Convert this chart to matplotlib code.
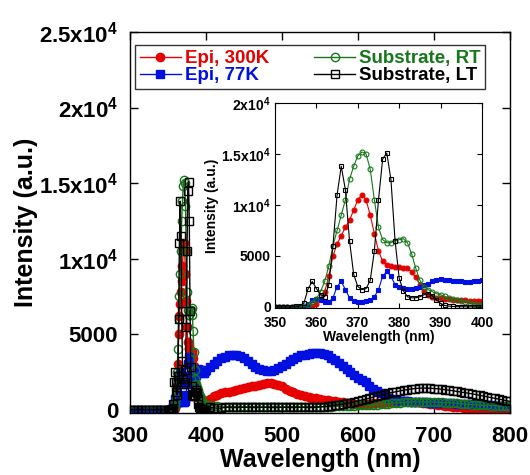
import numpy as np
import matplotlib
matplotlib.use('Agg')
from matplotlib import pyplot as plt

plt.rcParams['font.family'] = ['Liberation Sans', 'DejaVu Sans']
plt.rcParams['font.weight'] = 'bold'
plt.rcParams['mathtext.fontset'] = 'custom'
plt.rcParams['mathtext.bf'] = 'Liberation Sans:bold'
plt.rcParams['mathtext.rm'] = 'Liberation Sans:bold'
plt.rcParams['mathtext.default'] = 'bf'

# wavelength sampling (nm)
wl_lo = np.arange(300, 350, 5)
wl_mid = np.arange(350, 401, 1)
wl_hi = np.arange(405, 801, 5)
wl = np.concatenate([wl_lo, wl_mid, wl_hi])

zeros_lo = [0] * len(wl_lo)

# Epi, 300K
epi300_mid = [0, 0, 0, 0, 0, 0, 0, 0, 0, 100,
              300, 800, 1500, 3000, 5000, 6200, 7000, 7800, 8500, 9500,
              10500, 11000, 10500, 9000, 7200, 5500, 4500, 4100, 4000, 3900,
              3900, 3850, 3800, 3400, 2900, 2200, 1600, 1200, 1000, 900,
              850, 800, 750, 700, 700, 650, 650, 600, 600, 600, 600]
epi300_hi = [700, 900, 1000, 1100, 1150, 1200, 1250, 1300, 1400, 1450,
             1500, 1550, 1600, 1650, 1700, 1750, 1750, 1700, 1650, 1550,
             1400, 1250, 1150, 1050, 950, 900, 850, 800, 750, 700,
             650, 620, 600, 560, 520, 480, 450, 420, 400, 400,
             400, 400, 400, 420, 440, 460, 480, 500, 520, 540,
             550, 550, 550, 540, 520, 500, 470, 440, 400, 360,
             320, 280, 250, 220, 200, 180, 160, 140, 130, 120,
             110, 100, 90, 80, 70, 60, 50, 50, 40, 40]

# Epi, 77K
epi77_mid = [0, 0, 0, 0, 0, 0, 0, 0, 300, 700,
             800, 700, 500, 500, 900, 2000, 2500, 1700, 900, 600,
             500, 500, 550, 700, 1000, 1700, 3000, 3500, 3000, 2200,
             2000, 1900, 1800, 1800, 1900, 2000, 2200, 2300, 2500, 2600,
             2700, 2650, 2600, 2550, 2500, 2500, 2450, 2450, 2500, 2550, 2600]
epi77_hi = [2800, 3000, 3200, 3400, 3500, 3600, 3650, 3650, 3550, 3400,
            3200, 3000, 2850, 2700, 2600, 2550, 2550, 2600, 2750, 2900,
            3050, 3200, 3350, 3500, 3600, 3650, 3700, 3750, 3750, 3750,
            3700, 3600, 3450, 3300, 3100, 2900, 2700, 2500, 2300, 2100,
            1950, 1800, 1600, 1400, 1250, 1100, 950, 800, 700, 650,
            600, 580, 560, 540, 520, 500, 490, 480, 470, 460,
            450, 440, 430, 420, 410, 400, 390, 380, 370, 360,
            350, 340, 320, 300, 280, 270, 260, 250, 240, 230]

# Substrate, RT
subrt_mid = [0, 0, 0, 0, 0, 0, 0, 50, 200, 400,
             800, 1500, 2500, 4000, 6000, 7500, 9000, 10500, 12500, 13800,
             14800, 15200, 15000, 13500, 10500, 7800, 6600, 6300, 6300, 6500,
             6600, 6700, 6300, 5200, 3800, 2600, 2000, 1700, 1500, 1300,
             1200, 1050, 900, 800, 700, 600, 500, 400, 300, 250, 200]
subrt_hi = [300, 250, 220, 200, 200, 200, 200, 200, 200, 200,
            200, 200, 200, 200, 200, 200, 200, 200, 200, 200,
            200, 200, 200, 200, 200, 200, 200, 200, 200, 200,
            200, 200, 210, 220, 230, 240, 250, 260, 270, 280,
            290, 300, 310, 320, 340, 360, 380, 400, 420, 440,
            460, 480, 500, 510, 520, 520, 520, 520, 510, 500,
            490, 480, 470, 460, 440, 420, 400, 380, 360, 340,
            320, 300, 290, 280, 270, 260, 250, 240, 230, 220]

# Substrate, LT
sublt_mid = [0, 0, 0, 0, 0, 50, 100, 400, 1800, 2500,
             1800, 1200, 1000, 2200, 6000, 11000, 13800, 11500, 6500, 3200,
             2000, 1700, 1800, 2600, 5500, 10500, 14500, 15100, 12500, 6500,
             2800, 1600, 1000, 900, 900, 1000, 1200, 1300, 1100, 700,
             350, 150, 80, 50, 30, 20, 10, 0, 0, 0, 0]
sublt_hi = [150, 120, 100, 100, 150, 150, 150, 150, 150, 150,
            150, 150, 150, 150, 150, 150, 150, 150, 150, 150,
            150, 150, 150, 150, 150, 150, 150, 150, 150, 180,
            200, 230, 260, 300, 340, 380, 420, 470, 520, 580,
            640, 700, 760, 830, 900, 960, 1020, 1080, 1140, 1190,
            1240, 1290, 1330, 1370, 1400, 1420, 1430, 1430, 1420, 1400,
            1380, 1350, 1320, 1290, 1250, 1210, 1170, 1130, 1090, 1050,
            1000, 950, 900, 850, 800, 750, 700, 650, 600, 550]

series = [
    ('Epi, 300K', zeros_lo + epi300_mid + epi300_hi, '#e60000', 'o', True),
    ('Epi, 77K', zeros_lo + epi77_mid + epi77_hi, '#0010e0', 's', True),
    ('Substrate, RT', zeros_lo + subrt_mid + subrt_hi, '#16781a', 'o', False),
    ('Substrate, LT', zeros_lo + sublt_mid + sublt_hi, 'black', 's', False),
]

main_yticks = [0, 5000, 10000, 15000, 20000, 25000]
main_ylabels = ['0', '5000', r'1x10$^{4}$', r'1.5x10$^{4}$', r'2x10$^{4}$', r'2.5x10$^{4}$']
main_xticks = [300, 400, 500, 600, 700, 800]
ins_yticks = [0, 5000, 10000, 15000, 20000]
ins_ylabels = ['0', '5000', r'1x10$^{4}$', r'1.5x10$^{4}$', r'2x10$^{4}$']
ins_xticks = [350, 360, 370, 380, 390, 400]

W, H = 530, 475
fig = plt.figure(figsize=(W / 100, H / 100), dpi=100)


def box(l, t, r, b):
    return [l / W, 1 - b / H, (r - l) / W, (b - t) / H]


ax = fig.add_axes(box(130, 32, 510, 413))
for name, y, c, m, filled in series:
    ax.plot(wl, y, color=c, lw=1.0, marker=m, ms=6 if m == 'o' else 5.5,
            mfc=c if filled else 'none', mec=c, mew=1.0, label=name)
ax.set_xlim(300, 800)
ax.set_ylim(-220, 25000)
ax.set_xticks(main_xticks)
ax.set_yticks(main_yticks)
ax.set_yticklabels(main_ylabels)
ax.tick_params(direction='in', top=True, right=True, length=6, width=1,
               labelsize=16)
ax.tick_params(axis='x', pad=9)
ax.tick_params(axis='y', pad=8.5)
for sp in ax.spines.values():
    sp.set_linewidth(1.0)
ax.set_xlabel('Wavelength (nm)', fontsize=18, fontweight='bold', labelpad=1)
ax.set_ylabel('Intensity (a.u.)', fontsize=18, fontweight='bold', labelpad=1)

leg = ax.legend(ncol=2, loc='upper left', bbox_to_anchor=(0.013, 0.965),
                fontsize=13.5, frameon=True, fancybox=False, edgecolor='black',
                borderpad=0.25, handlelength=2.2, handletextpad=0.2,
                columnspacing=2.4, labelspacing=0.0, borderaxespad=0)
leg.get_frame().set_linewidth(1.0)
for txt, s in zip(leg.get_texts(), series):
    txt.set_color(s[2])

ins = fig.add_axes(box(275, 103, 482, 308))
for name, y, c, m, filled in series:
    ins.plot(wl, y, color=c, lw=0.8, marker=m, ms=3.5,
             mfc=c if filled else 'none', mec=c, mew=0.8)
ins.set_xlim(350, 400)
ins.set_ylim(-100, 20000)
ins.set_xticks(ins_xticks)
ins.set_yticks(ins_yticks)
ins.set_yticklabels(ins_ylabels)
ins.tick_params(direction='in', top=True, right=True, length=3.5, width=0.8,
                labelsize=10, pad=3)
ins.tick_params(axis='x', pad=6)
ins.set_xlabel('Wavelength (nm)', fontsize=10, fontweight='bold', labelpad=0)
ins.set_ylabel('Intensity (a.u.)', fontsize=10, fontweight='bold', labelpad=1)

fig.savefig('out.png', dpi=100)
